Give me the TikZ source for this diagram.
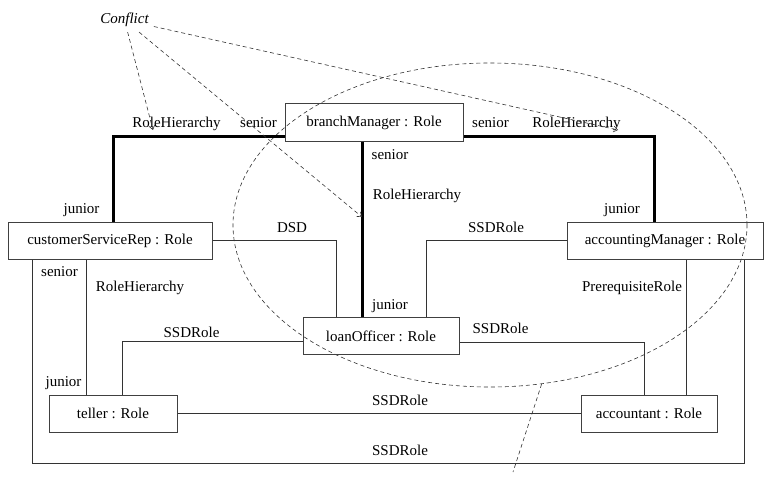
\documentclass[tikz,border=0pt]{standalone}
\usepackage{fontspec}
\setmainfont{Liberation Serif}
\newfontfamily\timesfont{Liberation Serif}
\usetikzlibrary{shapes.geometric,arrows.meta}
\begin{document}
\begin{tikzpicture}[x=1pt,y=-1pt,
  font=\timesfont\fontsize{15}{18}\selectfont,
  rolebox/.style={draw=black!75, line width=1pt, minimum height=37pt, inner sep=0pt},
  hier/.style={line width=3pt, black},
  assoc/.style={draw=black!80, line width=0.9pt},
  lbl/.style={anchor=base, inner sep=0pt},
  dsh/.style={draw=black!80, line width=0.6pt, dash pattern=on 4pt off 3pt},
  confarrow/.style={dsh, -{Straight Barb[length=4pt,width=6pt]}}]
\useasboundingbox (0,0) rectangle (767,476);

% ellipse (conflict set)
\node[ellipse, dsh, minimum width=514pt, minimum height=324pt, inner sep=0pt] (ell) at (490,225) {};
\coordinate (ellend) at (513,472);
\draw[dsh] (ell.-72) -- (ellend);

% role boxes
\node[rolebox, minimum width=178pt] (bm)  at (374,122.5) {branchManager : Role};
\node[rolebox, minimum width=204pt] (csr) at (110,240.5) {customerServiceRep : Role};
\node[rolebox, minimum width=196pt] (am)  at (665,240.5) {accountingManager : Role};
\node[rolebox, minimum width=156pt] (lo)  at (381,336)   {loanOfficer : Role};
\node[rolebox, minimum width=128pt] (tel) at (113,413.5) {teller : Role};
\node[rolebox, minimum width=136pt] (acc) at (649,413.5) {accountant : Role};

% role hierarchy (thick)
\draw[hier] (bm.west |- 0,136) -| (csr.north -| 113,0);
\draw[hier] (bm.south -| 362,0) -- (lo.north -| 362,0);
\draw[hier] (bm.east |- 0,136) -| (am.north -| 654,0);

% associations (thin)
\draw[assoc] (csr.east |- 0,240) -| (lo.north -| 336,0);
\draw[assoc] (am.west |- 0,240) -| (lo.north -| 426,0);
\draw[assoc] (csr.south -| 86,0) -- (tel.north -| 86,0);
\draw[assoc] (lo.west |- 0,341) -| (tel.north -| 122,0);
\draw[assoc] (lo.east |- 0,342) -| (acc.north -| 644,0);
\draw[assoc] (am.south -| 686,0) -- (acc.north -| 686,0);
\draw[assoc] (tel.east |- 0,413) -- (acc.west |- 0,413);
\draw[assoc] (csr.south -| 32,0) |- (744,463) -- (am.south -| 744,0);

% labels
\node[lbl] at (176.5,127) {RoleHierarchy};
\node[lbl] at (258.5,127) {senior};
\node[lbl] at (490.5,127) {senior};
\node[lbl] at (576.5,127) {RoleHierarchy};
\node[lbl] at (390,159) {senior};
\node[lbl] at (417,199) {RoleHierarchy};
\node[lbl] at (81.5,213) {junior};
\node[lbl] at (622,213) {junior};
\node[lbl] at (292,232) {DSD};
\node[lbl] at (496,232) {SSDRole};
\node[lbl] at (59.5,276) {senior};
\node[lbl] at (140,291) {RoleHierarchy};
\node[lbl] at (390,309) {junior};
\node[lbl] at (191.5,337) {SSDRole};
\node[lbl] at (500.5,333) {SSDRole};
\node[lbl] at (632,291) {PrerequisiteRole};
\node[lbl] at (63.5,386) {junior};
\node[lbl] at (400,405) {SSDRole};
\node[lbl] at (400,455) {SSDRole};

% conflict
\node[inner sep=5pt] (conf) at (124.5,20) {\itshape Conflict};
\coordinate (t1) at (153,130);
\coordinate (t2) at (362,217);
\coordinate (t3) at (618,130);
\draw[confarrow] (conf) -- (t1);
\draw[confarrow] (conf) -- (t2);
\draw[confarrow] (conf) -- (t3);
\end{tikzpicture}
\end{document}
